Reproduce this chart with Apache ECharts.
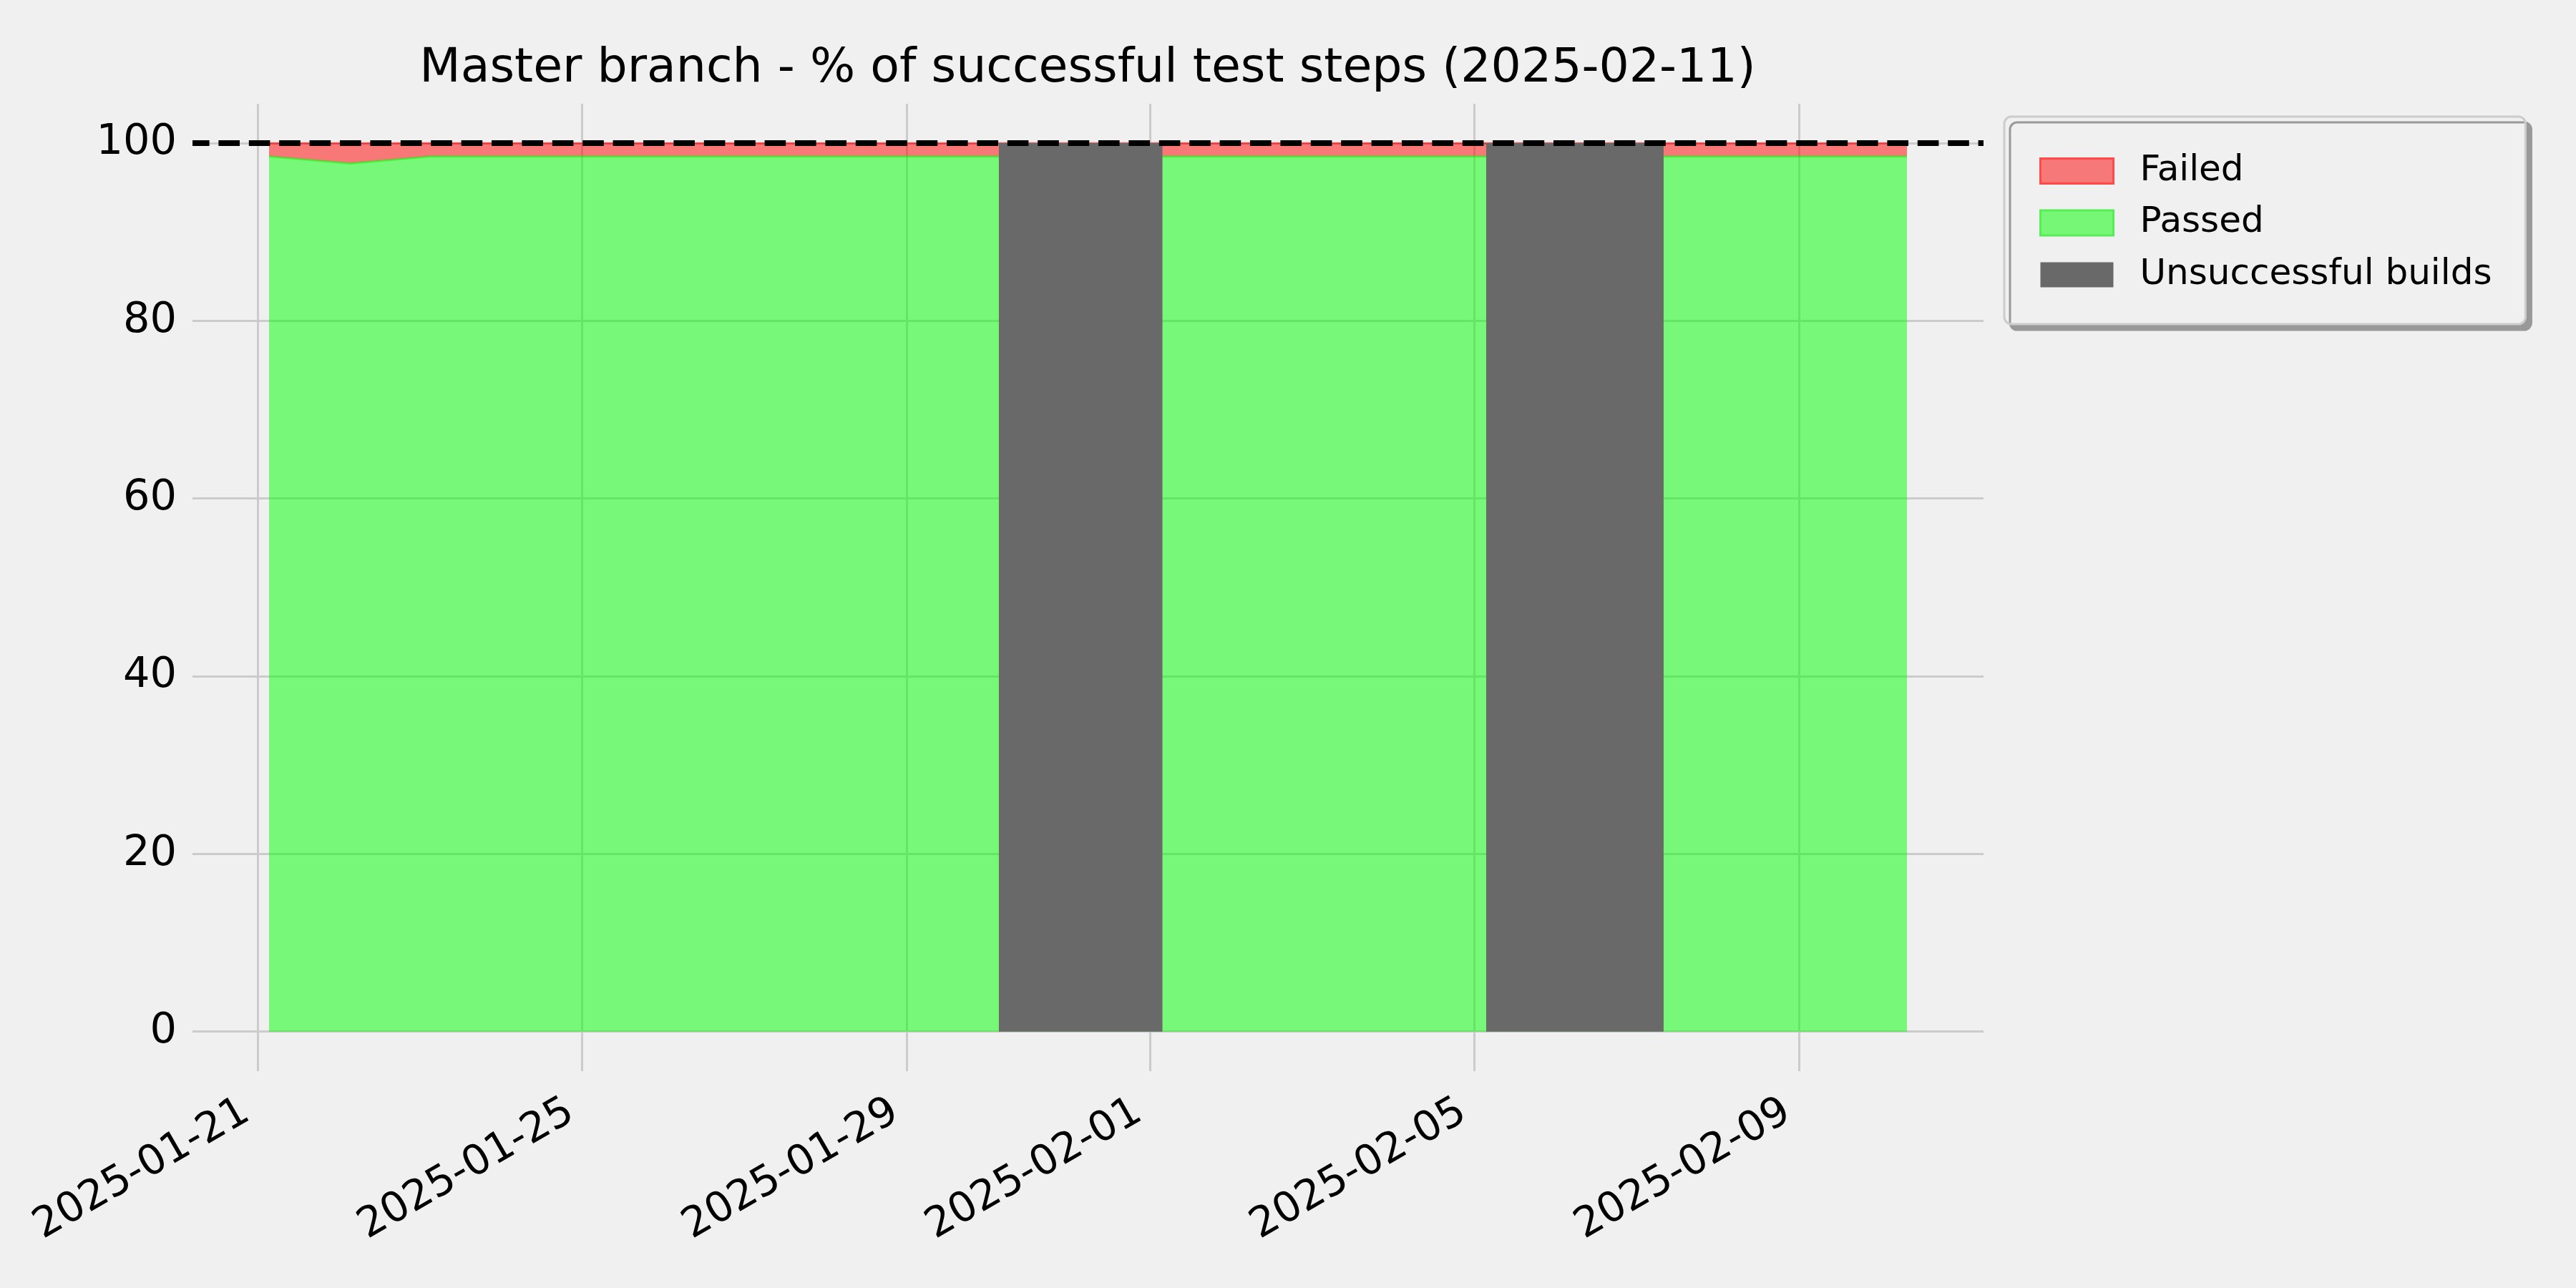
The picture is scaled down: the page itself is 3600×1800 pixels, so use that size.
<!DOCTYPE html>
<html><head><meta charset="utf-8">
<script src="https://cdn.jsdelivr.net/npm/echarts@6/dist/echarts.min.js"></script>
<style>html,body{margin:0;padding:0;background:#f0f0f0}#c{width:3600px;height:1800px}</style>
</head><body><div id="c"></div>
<script>
// ---- data ----
const titleText = 'Master branch - % of successful test steps (2025-02-11)';
const buildTimes = [
  '2025-01-21 03:23','2025-01-22 03:25','2025-01-23 03:15','2025-01-24 03:20','2025-01-25 03:20',
  '2025-01-26 03:20','2025-01-27 03:20','2025-01-28 03:20','2025-01-29 03:20','2025-01-30 03:19',
  '2025-01-31 03:20','2025-02-01 03:43','2025-02-02 03:20','2025-02-03 03:20','2025-02-04 03:20',
  '2025-02-05 03:30','2025-02-06 03:30','2025-02-07 08:00','2025-02-08 08:00','2025-02-09 08:00',
  '2025-02-10 08:00'
];
const passedPct = [98.5,97.7,98.5,98.5,98.5,98.5,98.5,98.5,98.5,98.5,98.5,98.5,98.5,98.5,98.5,98.5,98.5,98.5,98.5,98.5,98.5];
const failedPct = [1.5,2.3,1.5,1.5,1.5,1.5,1.5,1.5,1.5,1.5,1.5,1.5,1.5,1.5,1.5,1.5,1.5,1.5,1.5,1.5,1.5];
const unsuccessfulStart = ['2025-01-30 03:19','2025-02-05 03:30'];
const unsuccessfulEnd   = ['2025-02-01 03:43','2025-02-07 08:00'];
const xTickLabels = ['2025-01-21','2025-01-25','2025-01-29','2025-02-01','2025-02-05','2025-02-09'];
const xRange = ['2025-01-20 04:44','2025-02-11 06:39'];
const yRange = [0, 100];
const yStep = 20;
const targetPct = 100;

// ---- helpers ----
function t(s){
  const parts = s.split(' ');
  const d = parts[0].split('-').map(Number);
  const hm = (parts[1] || '00:00').split(':').map(Number);
  return new Date(d[0], d[1]-1, d[2], hm[0], hm[1]).getTime();
}
function fmt(v){
  const d = new Date(v);
  const p = n => (n < 10 ? '0' : '') + n;
  return d.getFullYear() + '-' + p(d.getMonth()+1) + '-' + p(d.getDate());
}
const FONT = 'DejaVu Sans';
const xMin = t(xRange[0]), xMax = t(xRange[1]);
const tickVals = xTickLabels.map(t);

const chart = echarts.init(document.getElementById('c'), null, {renderer:'canvas'});
chart.setOption({
  animation: false,
  backgroundColor: '#f0f0f0',
  title: {
    text: titleText, left: 1520, top: 63, textAlign: 'center', padding: 0,
    textStyle: {fontFamily: FONT, fontSize: 66.5, fontWeight: 'normal', color: '#000'}
  },
  legend: {
    orient: 'vertical', left: 2801, top: 163,
    padding: [51, 47, 44, 49],
    backgroundColor: '#f0f0f0', borderColor: '#cccccc', borderWidth: 3, borderRadius: 10,
    shadowColor: '#999999', shadowBlur: 0, shadowOffsetX: 8, shadowOffsetY: 8,
    itemWidth: 102, itemHeight: 35, itemGap: 22.5, icon: 'rect',
    textStyle: {fontFamily: FONT, fontSize: 50, lineHeight: 50, color: '#000', padding: [0,0,0,32]},
    data: [
      {name: 'Failed', itemStyle: {color: '#f77878', borderColor: '#ff4a4a', borderWidth: 3}},
      {name: 'Passed', itemStyle: {color: '#76f876', borderColor: '#55ee55', borderWidth: 3}},
      {name: 'Unsuccessful builds', itemStyle: {color: '#696969', borderWidth: 0}}
    ]
  },
  grid: [
    {left: 269, right: 828, top: 200, bottom: 358.3},
    {left: 269, right: 828, top: 145, bottom: 303}
  ],
  xAxis: [
    {type: 'time', gridIndex: 0, min: xMin, max: xMax, show: false, splitLine: {show: false}},
    {type: 'value', gridIndex: 1, min: xMin, max: xMax,
      axisLine: {show: false},
      axisTick: {show: false, customValues: tickVals},
      axisLabel: {customValues: tickVals, rotate: 30, margin: 44, fontFamily: FONT, fontSize: 58, color: '#000',
        padding: [0, 18, 0, 0], formatter: v => fmt(v), hideOverlap: false},
      splitLine: {show: true, lineStyle: {color: '#cbcbcb', width: 3}}
    }
  ],
  yAxis: [
    {type: 'value', gridIndex: 0, min: yRange[0], max: yRange[1], interval: yStep,
      axisLine: {show: false}, axisTick: {show: false},
      axisLabel: {fontFamily: FONT, fontSize: 59, color: '#000', margin: 22, padding: [15, 0, 0, 0]},
      splitLine: {show: true, lineStyle: {color: '#cbcbcb', width: 3}}
    },
    {type: 'value', gridIndex: 1, min: 0, max: 1, show: false, splitLine: {show: false}}
  ],
  series: [
    {
      name: 'Passed', type: 'line', xAxisIndex: 0, yAxisIndex: 0, stack: 'pct',
      symbol: 'none', z: 2, color: '#76f876',
      lineStyle: {color: 'rgba(0,255,0,0.5)', width: 3},
      areaStyle: {color: 'rgba(0,255,0,0.5)', opacity: 1},
      data: buildTimes.map((s, i) => [t(s), passedPct[i]])
    },
    {
      name: 'Failed', type: 'line', xAxisIndex: 0, yAxisIndex: 0, stack: 'pct',
      symbol: 'none', z: 2, color: '#f77878',
      lineStyle: {color: 'rgba(255,0,0,0.5)', width: 3},
      areaStyle: {color: 'rgba(255,0,0,0.5)', opacity: 1},
      data: buildTimes.map((s, i) => [t(s), failedPct[i]])
    },
    {
      name: 'Unsuccessful builds', type: 'line', xAxisIndex: 0, yAxisIndex: 0,
      symbol: 'none', z: 4, color: '#696969', data: [],
      markArea: {
        silent: true, z: 4, itemStyle: {color: '#696969', opacity: 1},
        label: {show: false},
        data: unsuccessfulStart.map((s, i) => [
          {xAxis: t(s), yAxis: yRange[0]}, {xAxis: t(unsuccessfulEnd[i]), yAxis: targetPct}
        ])
      }
    },
    {
      name: 'target', type: 'line', xAxisIndex: 0, yAxisIndex: 0, symbol: 'none', z: 6, data: [],
      markLine: {
        silent: true, z: 6, symbol: ['none','none'], label: {show: false},
        lineStyle: {color: '#000', width: 8, type: [29.6, 12.8], dashOffset: 6},
        data: [{yAxis: targetPct}]
      }
    }
  ]
});
</script></body></html>
